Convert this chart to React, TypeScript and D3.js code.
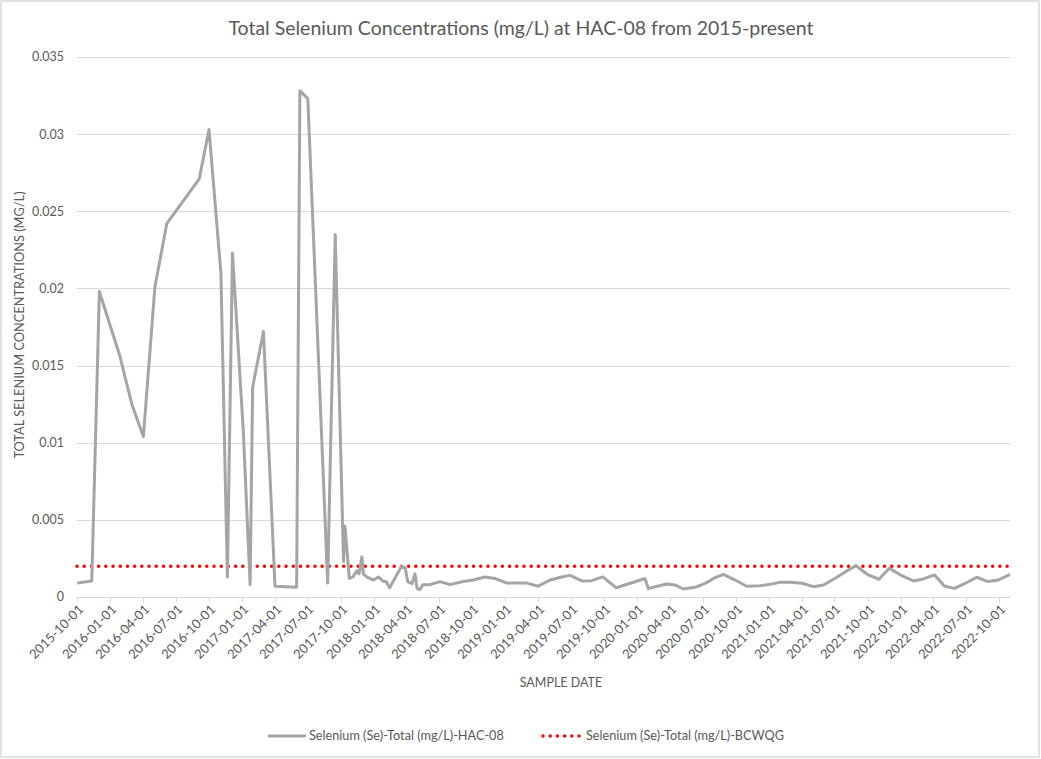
import { useEffect, useRef } from "react"
import * as d3 from "d3"

// Sample dates and total selenium (mg/L) at HAC-08
const sampleDates = [
  "2015-10-01", "2015-11-11", "2015-12-02", "2016-01-28", "2016-03-01", "2016-04-02",
  "2016-05-04", "2016-06-06", "2016-09-04", "2016-10-01", "2016-11-03", "2016-11-21",
  "2016-12-05", "2017-01-04", "2017-01-23", "2017-01-30", "2017-03-01", "2017-04-02",
  "2017-05-01", "2017-06-01", "2017-06-10", "2017-07-02", "2017-08-26", "2017-09-16",
  "2017-10-09", "2017-10-13", "2017-10-25", "2017-11-04", "2017-11-15", "2017-11-21",
  "2017-11-29", "2017-12-03", "2017-12-12", "2017-12-31", "2018-01-14", "2018-01-28",
  "2018-02-04", "2018-02-14", "2018-03-19", "2018-03-29", "2018-04-05", "2018-04-17",
  "2018-04-25", "2018-05-01", "2018-05-09", "2018-05-17", "2018-06-06", "2018-07-04",
  "2018-07-31", "2018-09-06", "2018-10-04", "2018-11-05", "2018-12-03", "2019-01-05",
  "2019-03-01", "2019-04-02", "2019-05-05", "2019-06-06", "2019-06-29", "2019-08-01",
  "2019-08-28", "2019-09-28", "2019-11-04", "2020-01-23", "2020-02-01", "2020-03-23",
  "2020-04-15", "2020-05-08", "2020-06-10", "2020-07-12", "2020-07-31", "2020-08-27",
  "2020-09-29", "2020-10-31", "2020-12-07", "2021-01-04", "2021-02-01", "2021-02-28",
  "2021-04-02", "2021-05-04", "2021-06-01", "2021-07-08", "2021-08-05", "2021-08-30",
  "2021-10-03", "2021-11-02", "2021-11-30", "2022-01-04", "2022-02-05", "2022-03-05",
  "2022-04-05", "2022-05-02", "2022-05-30", "2022-06-29", "2022-07-31", "2022-08-31",
  "2022-09-29", "2022-10-31",
]

const seleniumValues = [
  0.0009, 0.00104, 0.0198, 0.0156, 0.0125, 0.0104,
  0.0201, 0.0242, 0.0271, 0.0303, 0.021, 0.0013,
  0.0223, 0.0108, 0.0008, 0.0136, 0.0172, 0.0007,
  0.00066, 0.00063, 0.0328, 0.0323, 0.0009, 0.0235,
  0.0023, 0.0046, 0.0012, 0.0013, 0.0017, 0.0015,
  0.0026, 0.0015, 0.0013, 0.0011, 0.0013, 0.001,
  0.001, 0.0006, 0.002, 0.0019, 0.001, 0.00087,
  0.0015, 0.00055, 0.00048, 0.0008, 0.0008, 0.001,
  0.0008, 0.001, 0.0011, 0.0013, 0.0012, 0.0009,
  0.0009, 0.0007, 0.0011, 0.0013, 0.0014, 0.00104,
  0.00106, 0.0013, 0.0006, 0.0012, 0.00055, 0.00084,
  0.00078, 0.00052, 0.00063, 0.00093, 0.0012, 0.00147,
  0.0011, 0.0007, 0.00073, 0.00082, 0.00095, 0.00095,
  0.00089, 0.00067, 0.00078, 0.00128, 0.0017, 0.00203,
  0.00143, 0.00115, 0.00186, 0.00138, 0.00104, 0.00117,
  0.00143, 0.00071, 0.00056, 0.00089, 0.00128, 0.001,
  0.0011, 0.00147,
]

// BC water quality guideline
const guidelineValue = 0.002

const yTicks = [0, 0.005, 0.01, 0.015, 0.02, 0.025, 0.03, 0.035]

const seriesLabel = "Selenium (Se)-Total (mg/L)-HAC-08"
const guidelineLabel = "Selenium (Se)-Total (mg/L)-BCWQG"

export default function App() {
  const svgRef = useRef<SVGSVGElement>(null)

  useEffect(() => {
    if (!svgRef.current) return

    const svg = d3.select(svgRef.current)
    svg.selectAll("*").remove()

    const width = 1041
    const height = 759
    const left = 77
    const right = 1010
    const top = 57
    const bottom = 597
    const font = "Lato, 'Open Sans', sans-serif"
    const textColor = "#595959"

    const parse = d3.utcParse("%Y-%m-%d")
    const data = sampleDates.map((d, i) => ({ date: parse(d) as Date, value: seleniumValues[i] }))

    const x = d3
      .scaleUtc()
      .domain(d3.extent(data, (d) => d.date) as [Date, Date])
      .range([left, right])
    const y = d3.scaleLinear().domain([0, 0.035]).range([bottom, top])

    svg.attr("width", width).attr("height", height)

    // chart background and border
    svg
      .append("rect")
      .attr("x", 1)
      .attr("y", 1)
      .attr("width", width - 3)
      .attr("height", height - 3)
      .style("fill", "#fff")
      .style("stroke", "#d9d9d9")
      .style("stroke-width", 1.5)

    // title
    svg
      .append("text")
      .attr("x", 521)
      .attr("y", 35)
      .attr("text-anchor", "middle")
      .style("font-family", font)
      .style("font-size", "19.5px")
      .style("fill", textColor)
      .text("Total Selenium Concentrations (mg/L) at HAC-08 from 2015-present")

    // gridlines + y labels
    yTicks.forEach((t) => {
      if (t > 0) {
        svg
          .append("line")
          .attr("x1", left)
          .attr("x2", right)
          .attr("y1", Math.round(y(t)) + 0.5)
          .attr("y2", Math.round(y(t)) + 0.5)
          .style("stroke", "#d9d9d9")
          .style("stroke-width", 1)
      }
      svg
        .append("text")
        .attr("x", 64)
        .attr("y", y(t))
        .attr("dy", "0.35em")
        .attr("text-anchor", "end")
        .style("font-family", font)
        .style("font-size", "12.5px")
        .style("fill", textColor)
        .text(String(+t.toFixed(3)))
    })

    // x axis
    svg
      .append("line")
      .attr("x1", left)
      .attr("x2", right)
      .attr("y1", bottom + 0.5)
      .attr("y2", bottom + 0.5)
      .style("stroke", "#d9d9d9")
      .style("stroke-width", 1)

    const xTicks = d3.utcMonth.every(3)!.range(parse("2015-10-01") as Date, parse("2022-10-02") as Date)
    const fmt = d3.utcFormat("%Y-%m-%d")
    xTicks.forEach((t) => {
      const tx = Math.round(x(t))
      svg
        .append("line")
        .attr("x1", tx + 0.5)
        .attr("x2", tx + 0.5)
        .attr("y1", bottom)
        .attr("y2", bottom + 5)
        .style("stroke", "#d9d9d9")
      svg
        .append("text")
        .attr("transform", `translate(${tx + 4}, ${bottom + 10}) rotate(-45)`)
        .attr("text-anchor", "end")
        .attr("dy", "0.35em")
        .style("font-family", font)
        .style("font-size", "13px")
        .style("fill", textColor)
        .text(fmt(t))
    })

    // axis titles
    svg
      .append("text")
      .attr("x", 561)
      .attr("y", 687)
      .attr("text-anchor", "middle")
      .style("font-family", font)
      .style("font-size", "12.5px")
      .style("fill", textColor)
      .text("SAMPLE DATE")

    svg
      .append("text")
      .attr("transform", `translate(24, ${(top + bottom) / 2 - 2}) rotate(-90)`)
      .attr("text-anchor", "middle")
      .style("font-family", font)
      .style("font-size", "12.8px")
      .style("fill", textColor)
      .text("TOTAL SELENIUM CONCENTRATIONS (MG/L)")

    // guideline
    svg
      .append("line")
      .attr("x1", left)
      .attr("x2", right)
      .attr("y1", y(guidelineValue))
      .attr("y2", y(guidelineValue))
      .style("stroke", "#ff0000")
      .style("stroke-width", 3.5)
      .style("stroke-linecap", "round")
      .style("stroke-dasharray", "0.01 7.2")

    // series line
    const line = d3
      .line<{ date: Date; value: number }>()
      .x((d) => x(d.date))
      .y((d) => y(d.value))

    svg
      .append("path")
      .datum(data)
      .attr("d", line)
      .style("fill", "none")
      .style("stroke", "#a5a5a5")
      .style("stroke-width", 3)
      .style("stroke-linejoin", "round")

    // legend
    const ly = 736
    svg
      .append("line")
      .attr("x1", 268)
      .attr("x2", 306)
      .attr("y1", ly)
      .attr("y2", ly)
      .style("stroke", "#a5a5a5")
      .style("stroke-width", 3)
    svg
      .append("text")
      .attr("x", 309)
      .attr("y", ly)
      .attr("dy", "0.35em")
      .style("font-family", font)
      .style("font-size", "12.7px")
      .style("fill", textColor)
      .text(seriesLabel)

    svg
      .append("line")
      .attr("x1", 543)
      .attr("x2", 580)
      .attr("y1", ly)
      .attr("y2", ly)
      .style("stroke", "#ff0000")
      .style("stroke-width", 3.5)
      .style("stroke-linecap", "round")
      .style("stroke-dasharray", "0.01 7.2")
    svg
      .append("text")
      .attr("x", 586)
      .attr("y", ly)
      .attr("dy", "0.35em")
      .style("font-family", font)
      .style("font-size", "12.7px")
      .style("fill", textColor)
      .text(guidelineLabel)
  }, [])

  return <svg ref={svgRef} style={{ position: "absolute", left: 0, top: 0 }} />
}
